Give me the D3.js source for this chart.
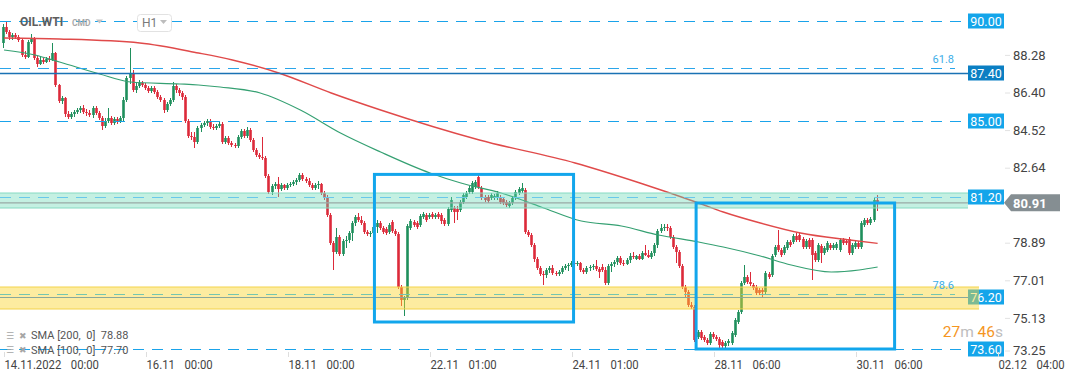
<!DOCTYPE html>
<html lang="en">
<head>
<meta charset="utf-8"/>
<title>OIL.WTI H1</title>
<script src="https://cdn.jsdelivr.net/npm/d3@7"></script>
<style>
  body { margin: 0; background: #fff; }
  svg { display: block; font-family: Roboto, "Noto Sans", sans-serif; }
</style>
</head>
<body>
<svg id="chart" width="1072" height="382"></svg>
<script>
// hourly candles [open, high, low, close]
var candles = [
[88.90,89.85,88.65,89.70],[89.70,89.95,89.35,89.45],[89.45,89.55,89.05,89.20],[89.20,89.40,89.05,89.30],
[89.30,89.40,89.10,89.20],[89.20,89.30,88.95,89.05],[89.05,89.15,88.20,88.30],[88.30,88.50,88.10,88.20],
[88.20,89.05,88.15,88.95],[88.95,89.35,88.85,89.15],[89.15,89.20,88.05,88.15],[88.15,88.25,87.70,87.85],
[87.85,88.20,87.80,88.05],[88.05,88.15,87.85,87.95],[87.95,88.20,87.90,88.10],[88.10,88.25,87.95,88.05],
[88.05,88.90,88.00,88.40],[88.40,88.45,86.70,86.80],[86.80,86.85,85.90,86.00],[86.00,86.25,85.85,86.15],
[86.15,86.20,85.20,85.35],[85.35,85.50,85.10,85.20],[85.20,85.45,85.10,85.35],[85.35,85.55,85.20,85.45],
[85.45,85.65,85.35,85.55],[85.55,85.75,85.40,85.65],[85.65,85.80,85.35,85.45],[85.45,85.60,85.25,85.40],
[85.40,85.55,85.20,85.30],[85.30,85.75,85.15,85.65],[85.65,85.75,85.30,85.40],[85.40,85.50,85.05,85.15],
[85.15,85.25,84.55,84.75],[84.75,85.15,84.65,85.00],[85.00,85.65,84.90,85.15],[85.15,85.25,84.80,84.90],
[84.90,85.20,84.80,85.10],[85.10,85.20,84.85,85.00],[85.00,85.25,84.90,85.15],[85.15,86.20,84.95,86.05],
[86.05,87.25,85.95,87.15],[87.15,88.65,86.85,87.40],[87.40,87.55,86.45,86.55],[86.55,86.95,86.40,86.75],
[86.75,87.05,86.65,86.90],[86.90,87.00,86.70,86.80],[86.80,86.90,86.55,86.65],[86.65,86.75,86.40,86.50],
[86.50,86.75,86.40,86.65],[86.65,86.75,86.35,86.45],[86.45,86.55,86.10,86.20],[86.20,86.30,85.95,86.05],
[86.05,86.15,85.40,85.55],[85.55,85.95,85.45,85.85],[85.85,86.15,85.75,86.05],[86.05,86.95,85.95,86.75],
[86.75,86.85,86.40,86.55],[86.55,86.65,86.25,86.40],[86.40,86.50,86.05,86.20],[86.20,86.30,84.90,85.00],
[85.00,85.10,84.15,84.25],[84.25,84.45,84.05,84.20],[84.20,84.45,83.65,83.95],[83.95,84.75,83.85,84.65],
[84.65,84.90,84.45,84.80],[84.80,85.00,84.70,84.90],[84.90,85.10,84.75,85.00],[85.00,85.10,84.60,84.70],
[84.70,84.85,84.55,84.65],[84.65,84.85,84.55,84.75],[84.75,85.00,84.65,84.85],[84.85,84.95,83.85,83.95],
[83.95,84.25,83.85,84.15],[84.15,84.25,83.80,83.90],[83.90,84.00,83.70,83.80],[83.80,83.90,83.65,83.75],
[83.75,84.30,83.65,84.20],[84.20,84.60,84.10,84.50],[84.50,84.60,84.15,84.25],[84.25,84.70,84.15,84.55],
[84.55,84.65,83.95,84.05],[84.05,84.15,83.45,83.55],[83.55,83.65,83.20,83.30],[83.30,83.40,83.10,83.20],
[83.20,84.20,83.05,83.15],[83.15,83.25,82.15,82.25],[82.25,82.35,81.35,81.45],[81.45,81.85,81.30,81.75],
[81.75,81.95,81.60,81.85],[81.85,82.20,81.20,81.60],[81.60,81.90,81.50,81.80],[81.80,81.85,81.55,81.65],
[81.65,81.90,81.55,81.80],[81.80,81.95,81.70,81.85],[81.85,82.05,81.75,81.95],[81.95,82.15,81.80,82.05],
[82.05,82.40,81.95,82.30],[82.30,82.40,82.00,82.10],[82.10,82.20,81.90,82.00],[82.00,82.15,81.70,81.80],
[81.80,81.90,81.55,81.65],[81.65,81.90,81.55,81.80],[81.80,82.00,81.60,81.85],[81.85,81.90,81.30,81.40],
[81.40,81.50,81.05,81.20],[81.20,81.30,80.20,80.30],[80.30,80.40,78.80,78.90],[78.90,79.00,77.55,78.45],
[78.45,79.65,78.35,79.20],[79.20,79.30,78.25,78.35],[78.35,79.10,78.25,79.00],[79.00,79.25,78.65,79.05],
[79.05,79.50,78.90,79.40],[79.40,80.00,79.00,79.90],[79.90,80.30,79.75,80.20],[80.20,80.40,79.95,80.05],
[80.05,80.25,79.80,79.90],[79.90,80.00,79.35,79.45],[79.45,79.55,79.25,79.35],[79.35,79.50,79.20,79.40],
[79.40,79.80,79.25,79.70],[79.70,80.05,79.40,79.90],[79.90,80.00,79.55,79.65],[79.65,79.75,79.35,79.45],
[79.60,79.70,79.30,79.40],[79.45,79.90,79.35,79.80],[79.95,80.05,79.40,79.50],[79.50,79.60,79.25,79.35],
[79.35,79.45,76.60,76.70],[76.70,76.80,75.75,76.05],[76.05,76.25,75.25,76.15],[76.15,79.85,76.05,79.75],
[79.65,80.10,79.55,80.00],[79.95,80.05,79.70,79.80],[79.90,80.00,79.60,79.70],[79.80,80.35,79.70,80.25],
[80.20,80.45,80.10,80.35],[80.30,80.40,79.95,80.05],[80.20,80.40,80.10,80.30],[80.35,80.45,80.10,80.20],
[80.20,80.40,80.10,80.30],[80.35,80.45,80.10,80.20],[80.30,80.40,79.85,80.00],[80.05,80.15,79.75,79.85],
[79.85,80.70,79.75,80.60],[80.55,81.20,80.45,81.05],[80.65,80.75,79.90,80.45],[80.60,80.75,80.05,80.45],
[80.55,81.05,80.45,80.95],[80.95,81.40,80.85,81.30],[81.20,81.50,81.10,81.40],[81.45,81.75,81.35,81.65],
[81.45,82.00,81.35,81.90],[81.70,82.05,81.60,81.95],[82.20,82.30,81.60,81.70],[81.65,81.75,81.05,81.15],
[81.20,81.30,80.95,81.05],[81.20,81.30,80.90,81.00],[81.15,81.40,81.05,81.30],[81.15,81.35,81.05,81.25],
[81.15,81.50,81.05,81.40],[81.20,81.30,80.85,80.95],[81.10,81.20,80.80,80.90],[80.95,81.05,80.70,80.80],
[80.75,81.00,80.65,80.90],[80.90,81.25,80.80,81.15],[81.15,81.55,81.05,81.45],[81.40,81.70,81.30,81.60],
[81.50,81.90,81.40,81.65],[81.55,81.65,79.35,79.45],[79.45,79.55,79.20,79.30],[79.30,79.40,78.70,78.80],
[78.80,78.90,77.95,78.10],[78.10,78.20,77.55,77.65],[77.65,77.75,77.25,77.35],[77.35,77.50,76.80,77.30],
[77.30,77.65,77.15,77.55],[77.55,77.75,77.40,77.65],[77.65,77.80,77.30,77.40],[77.40,77.50,77.25,77.35],
[77.35,77.55,77.25,77.45],[77.45,77.75,77.35,77.65],[77.65,77.85,77.55,77.75],[77.75,77.90,77.50,77.80],
[77.80,78.00,77.70,77.90],[77.90,78.00,77.75,77.85],[77.85,78.00,77.75,77.90],[77.90,77.95,77.45,77.55],
[77.55,77.65,77.35,77.45],[77.45,77.75,77.35,77.65],[77.65,77.80,77.50,77.70],[77.70,77.85,77.55,77.75],
[77.75,78.05,77.50,77.60],[77.60,77.70,77.15,77.45],[77.70,77.85,77.45,77.55],[77.55,77.70,76.80,76.90],
[76.90,77.85,76.80,77.75],[77.75,77.95,77.45,77.85],[77.85,78.05,77.70,77.95],[77.95,78.25,77.80,78.15],
[78.15,78.25,77.80,77.90],[77.90,78.05,77.75,77.85],[77.85,78.15,77.80,78.05],[78.05,78.40,77.90,78.25],
[78.25,78.45,78.10,78.20],[78.10,78.30,78.05,78.25],[78.25,78.35,78.05,78.10],[78.10,78.50,78.05,78.40],
[78.40,78.80,78.25,78.30],[78.30,78.55,78.15,78.20],[78.20,78.50,78.10,78.40],[78.40,78.90,78.25,78.80],
[78.80,79.60,78.65,79.50],[79.50,79.85,79.40,79.65],[79.65,79.85,79.50,79.70],[79.70,79.85,79.50,79.65],
[79.65,79.75,79.10,79.20],[79.20,79.30,78.60,78.70],[78.70,78.80,77.90,78.45],[78.45,78.55,77.65,77.75],
[77.75,77.85,76.60,76.70],[76.70,76.80,76.20,76.45],[76.45,76.55,75.70,75.80],[75.80,75.95,75.60,75.70],
[75.70,75.80,73.95,74.05],[74.20,74.55,74.10,74.45],[74.45,74.55,74.05,74.15],[74.20,74.30,73.95,74.05],
[74.05,74.15,73.80,73.90],[73.90,74.45,73.80,74.35],[74.35,74.45,74.10,74.20],[74.20,74.30,74.00,74.10],
[74.10,74.20,73.65,73.80],[73.95,74.05,73.65,73.75],[73.75,74.00,73.65,73.90],[73.90,74.10,73.75,74.00],
[73.90,74.50,73.80,74.40],[74.30,75.15,74.20,75.05],[74.95,75.55,74.85,75.45],[75.45,77.00,75.35,76.90],
[76.90,77.80,76.80,77.20],[77.20,77.30,76.85,76.95],[76.95,77.45,76.75,76.85],[76.80,76.90,76.55,76.65],
[76.70,76.80,76.30,76.40],[76.55,76.65,76.30,76.40],[76.55,76.65,76.20,76.45],[76.45,77.50,76.35,77.40],
[77.35,77.45,77.10,77.20],[77.30,78.35,77.20,78.25],[78.30,78.80,78.20,78.70],[78.80,79.55,78.45,78.55],
[78.55,78.65,78.20,78.30],[78.40,78.80,78.30,78.70],[78.65,79.05,78.55,78.95],[78.95,79.05,78.70,78.80],
[78.95,79.35,78.85,79.25],[79.25,79.40,78.95,79.05],[79.30,79.40,78.95,79.05],[79.10,79.20,78.60,78.70],
[78.70,79.10,78.60,79.00],[79.05,79.15,78.60,78.70],[79.05,79.15,77.05,78.30],[78.40,78.50,77.95,78.05],
[78.05,78.90,77.95,78.80],[78.75,78.85,77.90,78.40],[78.40,78.75,78.30,78.65],[78.55,79.00,78.45,78.90],
[78.80,78.90,78.55,78.65],[78.65,78.90,78.55,78.80],[78.65,78.95,78.55,78.85],[78.55,79.15,78.45,79.05],
[79.05,79.15,78.80,78.90],[79.00,79.10,78.80,78.90],[79.10,79.20,78.30,78.40],[78.40,78.90,78.30,78.80],
[78.70,79.00,78.60,78.90],[78.90,79.00,78.60,78.70],[78.70,80.00,78.60,79.90],[79.80,80.15,79.70,80.05],
[80.05,80.15,79.80,79.90],[79.90,80.20,79.80,80.10],[80.05,81.15,79.95,81.05],[81.05,81.30,80.50,80.91]
];

// moving averages, [candle index, value]
var sma200 = [[0,89.15],[18,89.10],[44,88.90],[63,88.40],[74,88.05],[89,87.40],[106,86.40],[122,85.55],
  [154,84.05],[185,82.90],[206,81.90],[225,80.90],[233,80.45],[245,79.90],[258,79.40],[274,79.05],[283,78.88]];
var sma100 = [[0,88.55],[10,88.30],[18,87.95],[31,87.35],[41,86.95],[57,86.85],[63,86.80],[70,86.70],
  [83,86.40],[96,85.55],[109,84.40],[122,83.45],[138,82.40],[148,81.90],[161,81.40],[174,80.70],
  [187,80.00],[200,79.75],[212,79.30],[225,78.95],[233,78.70],[245,78.25],[255,77.80],[268,77.45],
  [277,77.55],[283,77.70]];

var priceTicks = [88.28, 86.40, 84.52, 82.64, 78.89, 77.01, 75.13, 73.25];
var timeTickIdx = [0, 46, 92, 138, 184, 230, 276, 322];
var timeTickDates = ["14.11.2022", "16.11", "18.11", "22.11", "24.11", "28.11", "30.11", "02.12"];
var timeTickTimes = ["00:00", "00:00", "00:00", "01:00", "01:00", "06:00", "06:00", "04:00"];

var levelValues = [90.00, 87.40, 85.00, 81.20, 76.20, 73.60];
var fibValues = [87.65, 76.35];
var fibLabels = ["61.8", "78.6"];
var zones = [[81.40, 80.65], [76.70, 75.60]];       // green, yellow
var boxes = [[120, 184.5, 82.33, 74.95], [224.2, 288.5, 80.90, 73.60]]; // i0, i1, top, bottom
var lastPrice = 80.91;
var smaNames = ["SMA [200,  0]  78.88", "SMA [100,  0]  77.70"];

var svg = d3.select("#chart");
var x = d3.scaleLinear().domain([0, 322]).range([4, 4 + 322 * 3.087]);
var y = d3.scaleLinear().domain([91.05, 73.15]).range([0, 358]);
var RIGHT = 968;
var UP = "#1f8f5c", DOWN = "#dc2a3a";

// candles
var cg = svg.append("g").selectAll("g").data(candles).join("g");
cg.append("line")
  .attr("x1", function(d, i) { return Math.round(x(i)) - 0.5; })
  .attr("x2", function(d, i) { return Math.round(x(i)) - 0.5; })
  .attr("y1", function(d) { return y(d[1]); })
  .attr("y2", function(d) { return y(d[2]); })
  .attr("stroke", function(d) { return d[3] >= d[0] ? UP : DOWN; })
  .attr("stroke-width", 1);
cg.append("rect")
  .attr("x", function(d, i) { return Math.round(x(i)) - 1.8; })
  .attr("width", 2.6)
  .attr("y", function(d) { return y(Math.max(d[0], d[3])); })
  .attr("height", function(d) { return Math.max(1, Math.abs(y(d[0]) - y(d[3]))); })
  .attr("fill", function(d) { return d[3] >= d[0] ? UP : DOWN; });

// SMAs
var line = d3.line().x(function(d) { return x(d[0]); }).y(function(d) { return y(d[1]); }).curve(d3.curveMonotoneX);
svg.append("path").attr("d", line(sma200)).attr("fill", "none").attr("stroke", "#e04a4a").attr("stroke-width", 1.4);
svg.append("path").attr("d", line(sma100)).attr("fill", "none").attr("stroke", "#35a072").attr("stroke-width", 1.2);

// level label boxes
var boxFill = ["#14a5ea", "#0b7fc3", "#14a5ea", "#14a5ea", "#14a5ea", "#14a5ea"];
var lab = svg.append("g").selectAll("g").data(levelValues).join("g")
  .attr("transform", function(d) { return "translate(968," + Math.round(y(d)) + ")"; });
lab.append("rect").attr("x", 0).attr("y", -7.5).attr("width", 36).attr("height", 15)
  .attr("fill", function(d, i) { return boxFill[i]; });
lab.append("text").attr("x", 18).attr("y", 4.5).attr("text-anchor", "middle")
  .attr("fill", "#fff").attr("font-size", 12.5).text(function(d) { return d.toFixed(2); });

// zones (semi transparent, over candles)
var zoneFill = ["rgba(100,215,178,0.38)", "rgba(250,212,45,0.45)"];
var zoneEdge = ["#86dac2", "#f3d34a"];
var zoneRight = [968, 979];
zones.forEach(function(z, i) {
  svg.append("rect").attr("x", 0).attr("width", zoneRight[i])
    .attr("y", y(z[0])).attr("height", y(z[1]) - y(z[0])).attr("fill", zoneFill[i]);
  [z[0], z[1]].forEach(function(v) {
    svg.append("line").attr("x1", 0).attr("x2", zoneRight[i]).attr("y1", y(v)).attr("y2", y(v))
      .attr("stroke", zoneEdge[i]).attr("stroke-width", 1);
  });
});

// horizontal levels
var lvColor = ["#1aa3ea", "#1a72b4", "#1aa3ea", "#69c8ea", "#8aa89a", "#1aa3ea"];
var lvDash = ["11,8", null, "11,8", "11,8", null, "11,8"];
levelValues.forEach(function(v, i) {
  svg.append("line").attr("x1", 0).attr("x2", RIGHT)
    .attr("y1", Math.round(y(v)) + 0.5).attr("y2", Math.round(y(v)) + 0.5)
    .attr("stroke", lvColor[i]).attr("stroke-width", i === 1 ? 1.3 : 1.2)
    .attr("stroke-dasharray", lvDash[i]);
});
// current price line
svg.append("line").attr("x1", 0).attr("x2", RIGHT).attr("y1", y(lastPrice)).attr("y2", y(lastPrice))
  .attr("stroke", "#9aaaa6").attr("stroke-width", 1.2);

// fibonacci lines
var fibColor = ["#2aa5ea", "#74c6b0"];
fibValues.forEach(function(v, i) {
  svg.append("line").attr("x1", 0).attr("x2", 955)
    .attr("y1", Math.round(y(v)) + 0.5).attr("y2", Math.round(y(v)) + 0.5)
    .attr("stroke", fibColor[i]).attr("stroke-width", 1.1).attr("stroke-dasharray", "11,8");
  svg.append("text").attr("x", 954).attr("y", y(v) - 5).attr("text-anchor", "end")
    .attr("fill", "#3daee8").attr("font-size", 11).text(fibLabels[i]);
});

// annotation rectangles
svg.append("g").selectAll("rect").data(boxes).join("rect")
  .attr("x", function(d) { return x(d[0]); })
  .attr("y", function(d) { return y(d[2]); })
  .attr("width", function(d) { return x(d[1]) - x(d[0]); })
  .attr("height", function(d) { return y(d[3]) - y(d[2]); })
  .attr("fill", "none").attr("stroke", "#12a6ec").attr("stroke-width", 3);

// price axis
var ya = svg.append("g").attr("transform", "translate(1005,0)")
  .call(d3.axisRight(y).tickValues(priceTicks).tickSize(5).tickPadding(3).tickFormat(d3.format(".2f")));
ya.select(".domain").remove();
ya.attr("font-family", "Roboto, sans-serif").attr("font-size", 13);
ya.selectAll(".tick").attr("transform", function(d) { return "translate(0," + Math.min(y(d), 351) + ")"; });
ya.selectAll(".tick line").attr("stroke", "#e2e2e2");
ya.selectAll(".tick text").attr("fill", "#444");

// current price tag
var py = y(lastPrice);
svg.append("path")
  .attr("d", "M1004," + py + "L1011," + (py - 8.5) + "H1060V" + (py + 8.5) + "H1011Z")
  .attr("fill", "#858e92");
svg.append("text").attr("x", 1013).attr("y", py + 5).attr("fill", "#fff")
  .attr("font-size", 13).attr("font-weight", "bold").text(lastPrice.toFixed(2));

// time axis
var xa = svg.append("g").attr("transform", "translate(0,352)")
  .call(d3.axisBottom(x).tickValues(timeTickIdx).tickSize(5)
    .tickFormat(function(d, i) { return timeTickDates[i]; }));
xa.select(".domain").remove();
xa.attr("font-family", "Roboto, sans-serif").attr("font-size", 13);
xa.selectAll(".tick line").attr("stroke", "#dedede");
xa.selectAll(".tick text").attr("text-anchor", "start").attr("x", 0).attr("y", 17).attr("dy", null)
  .attr("fill", "#444").attr("transform", "scale(0.87,1)")
  .each(function(d, i) {
    d3.select(this).append("tspan").attr("dx", 11).text(timeTickTimes[i]);
  });

// header
svg.append("text").attr("x", 20).attr("y", 26).attr("font-size", 12).attr("font-weight", "bold")
  .attr("fill", "#5e5e5e").text("OIL.WTI");
svg.append("text").attr("x", 72).attr("y", 26).attr("font-size", 8.5).attr("font-weight", "bold")
  .attr("fill", "#a8a8a8").text("CMD");
svg.append("path").attr("d", "M96,19.5H103L99.5,23.5Z").attr("fill", "#c4c4c4");
svg.append("rect").attr("x", 137.5).attr("y", 14.5).attr("width", 34).attr("height", 17).attr("rx", 3)
  .attr("fill", "#fff").attr("stroke", "#e2e2e2");
svg.append("text").attr("x", 142).attr("y", 27).attr("font-size", 12).attr("fill", "#7a7a7a").text("H1");
svg.append("path").attr("d", "M160,20H167L163.5,24Z").attr("fill", "#bdbdbd");

// legend
smaNames.forEach(function(s, i) {
  var ly = 335 + i * 14.5;
  svg.append("text").attr("x", 6).attr("y", ly + 3.5).attr("font-family", "DejaVu Sans")
    .attr("font-size", 9).attr("fill", "#a6a6a6").text("\u2630");
  svg.append("text").attr("x", 19).attr("y", ly + 3.5).attr("font-family", "DejaVu Sans")
    .attr("font-size", 9).attr("fill", "#a6a6a6").text("\u2716");
  svg.append("text").attr("x", 31).attr("y", ly + 4).attr("font-size", 11).attr("fill", "#555")
    .style("white-space", "pre").text(s);
});

// candle countdown
var cd = svg.append("text").attr("x", 1003).attr("y", 337).attr("text-anchor", "end").attr("font-size", 15.5);
cd.append("tspan").attr("fill", "#f5961f").text("27");
cd.append("tspan").attr("fill", "#bdbdbd").text("m ");
cd.append("tspan").attr("fill", "#f5961f").text("46");
cd.append("tspan").attr("fill", "#bdbdbd").text("s");
</script>
</body>
</html>
